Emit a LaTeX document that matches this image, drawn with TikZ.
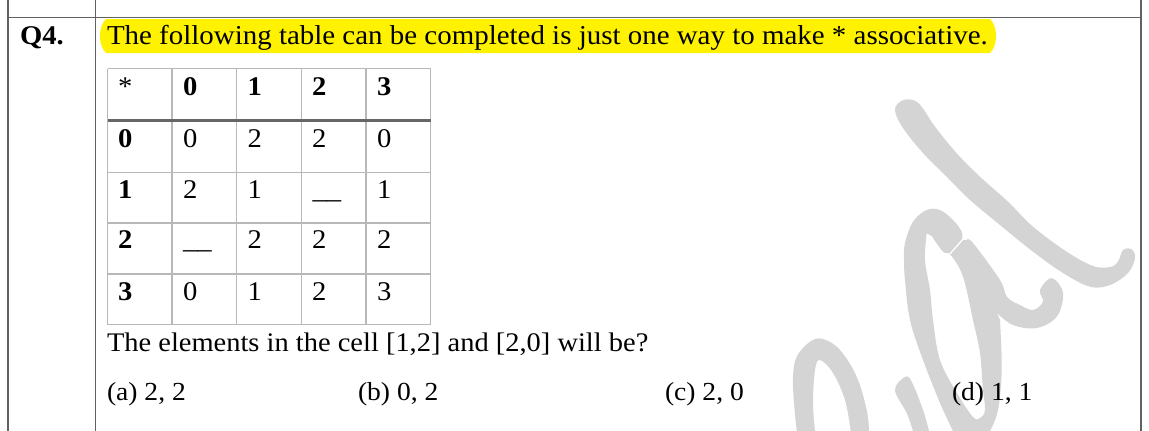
\documentclass[tikz,border=0pt]{standalone}
\usepackage{fontspec}
\setmainfont{Liberation Serif}[FakeStretch=1.06]
\definecolor{rule}{gray}{0.38}
\definecolor{cellrule}{gray}{0.72}
\definecolor{mark}{gray}{0.83}
\tikzset{
  txt/.style={anchor=base west,inner sep=0pt,outer sep=0pt,font=\fontsize{27}{30}\selectfont,text=black},
  boldtxt/.style={txt,font=\fontsize{27}{30}\selectfont\bfseries},
  titletxt/.style={txt,font=\fontsize{27.3}{30}\selectfont},
  asktxt/.style={txt,font=\fontsize{26.85}{30}\selectfont},
  opttxt/.style={txt,font=\fontsize{26}{30}\selectfont},
  frameline/.style={draw=rule,line width=1.5pt},
  grid/.style={draw=cellrule,line width=1.2pt},
  thickgrid/.style={draw=black!60,line width=2.6pt},
  wm/.style={fill=mark,draw=none,even odd rule},
  sm/.style={smooth,tension=0.6}
}
\begin{document}
\begin{tikzpicture}[x=1pt,y=-1pt]
\useasboundingbox (0,0) rectangle (1149,431);
\fill[white] (0,0) rectangle (1149,431);
% watermark
\fill[wm] plot[smooth cycle,tension=0.6] coordinates {(895,110)(901.7,100.7)(913,100)(921.7,106.7)(935,126.7)(956.7,153.3)(980,176.7)(1008,201.7)(1033,226.7)(1066.7,251.7)(1093,266)(1110,267)(1118,261.7)(1123,250)(1131.7,249.3)(1135,258)(1128,273)(1110,285)(1090,286.7)(1063,273)(1033,251.7)(1000,225)(970,200)(946.7,176.7)(923,153)(903,128)};
\fill[wm] plot[sm] coordinates {(953,431)(940,403)(923,360)(910,320)(905,280)(904,260)(905,243)(913,221.7)(926.7,210)(940,210)(953,220)(961.7,231.7)(962,240)}
 -- plot[sm] coordinates {(966.7,240)(973,243)(1000,280)(1007,297)(1020,305)(1033,310)(1043,301.7)(1040,290)(1051.7,278)(1063,293)(1056.7,316.7)(1036.7,328)(1013,325)(997,313)}
 -- plot[sm] coordinates {(1000,320)(1001.7,370)(998,410)(990,431)} -- cycle
 plot[sm] coordinates {(926.7,233.3)(925,260)(930,290)(933,320)(940,360)(957,393)(973,417)(980,418)(985,410)(982.7,387)(980,353)(973,320)(963,276.7)(950.7,255)(943,251.7)(931.7,236)} -- cycle;
\draw[white,line width=1.3pt] (948,256) -- (964,238);
\fill[wm] plot[sm] coordinates {(796.7,431)(794,403)(793,376.7)(796.7,356.7)(810,341.7)(823,339)(840,350)(856.7,376.7)(866.7,410)(869,431)} -- plot[sm] coordinates {(850.7,431)(845,400)(833,373)(820,360)(815,370)(813,403)(815,431)} -- cycle;
\fill[wm] plot[sm] coordinates {(913,431)(906.7,413)(895,390)(905,377)(911.7,381.7)(923,410)(929,431)} -- cycle;
% frame
\coordinate (tl) at (8,0); \coordinate (bl) at (8,431);
\coordinate (tm) at (95.5,0); \coordinate (bm) at (95.5,431);
\coordinate (tr) at (1141,0); \coordinate (br) at (1141,431);
\coordinate (hl) at (8,17.5); \coordinate (hr) at (1141,17.5);
\draw[frameline] (tl)--(bl); \draw[frameline] (tm)--(bm); \draw[frameline] (tr)--(br); \draw[frameline] (hl)--(hr);
% highlight
\fill[yellow] (106,19) -- (990,19) .. controls (998,26) and (998,46) .. (990,53) -- (106,53) .. controls (98,46) and (98,26) .. (106,19) -- cycle;
\node[boldtxt] (q) at (20,44) {Q4.};
\node[titletxt] (title) at (107,44.5) {The following table can be completed is just one way to make * associative.};
% table grid
\foreach \x in {107.5,172,236.5,301.5,366,430.5} \draw[grid] (\x,68.5) -- (\x,324.5);
\foreach \y in {68.5,172.5,223,274,324.5} \draw[grid] (107.5,\y) -- (430.5,\y);
\draw[thickgrid] (107.5,120.3) -- (430.5,120.3);
% header
\node[txt] (c00) at (118,95) {*};
\node[boldtxt] (c01) at (183,95) {0};
\node[boldtxt] (c02) at (247.5,95) {1};
\node[boldtxt] (c03) at (312,95) {2};
\node[boldtxt] (c04) at (377,95) {3};
% row 0
\node[boldtxt] (c10) at (118,147) {0};
\node[txt] (c11) at (183,147) {0};
\node[txt] (c12) at (247.5,147) {2};
\node[txt] (c13) at (312,147) {2};
\node[txt] (c14) at (377,147) {0};
% row 1
\node[boldtxt] (c20) at (118,198) {1};
\node[txt] (c21) at (183,198) {2};
\node[txt] (c22) at (247.5,198) {1};
\node[txt] (c23) at (312.5,198) {\_\_};
\node[txt] (c24) at (377,198) {1};
% row 2
\node[boldtxt] (c30) at (118,248.5) {2};
\node[txt] (c31) at (183,248.5) {\_\_};
\node[txt] (c32) at (247.5,248.5) {2};
\node[txt] (c33) at (312,248.5) {2};
\node[txt] (c34) at (377,248.5) {2};
% row 3
\node[boldtxt] (c40) at (118,300) {3};
\node[txt] (c41) at (183,300) {0};
\node[txt] (c42) at (247.5,300) {1};
\node[txt] (c43) at (312,300) {2};
\node[txt] (c44) at (377,300) {3};
% text
\node[asktxt] (ask) at (107,351) {The elements in the cell [1,2] and [2,0] will be?};
\node[opttxt] (oa) at (107,400) {(a) 2, 2};
\node[opttxt] (ob) at (358,400) {(b) 0, 2};
\node[opttxt] (oc) at (665,400) {(c) 2, 0};
\node[opttxt] (od) at (952,400) {(d) 1, 1};
\end{tikzpicture}
\end{document}
